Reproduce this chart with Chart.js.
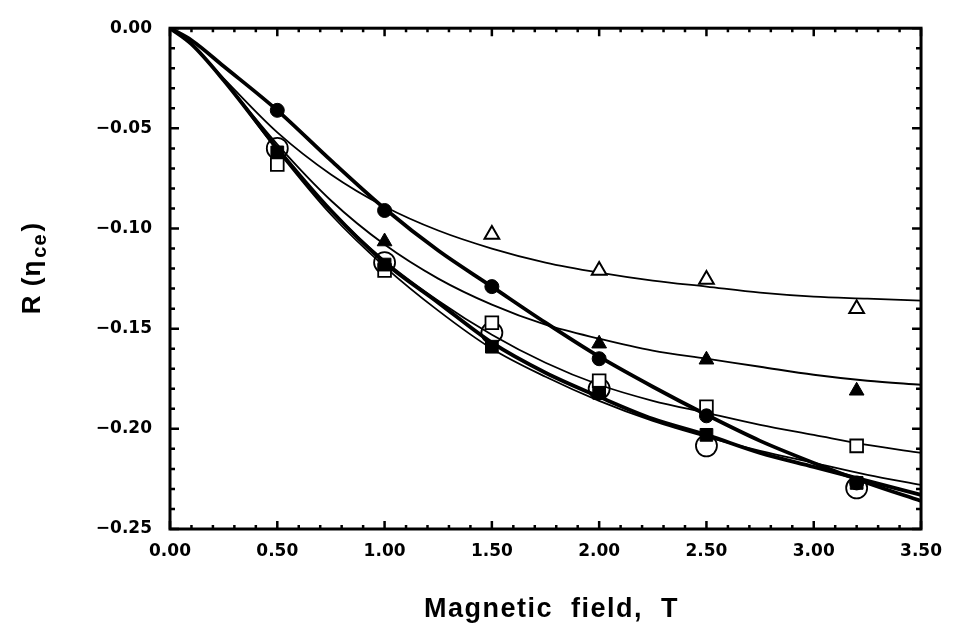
<!DOCTYPE html>
<html>
<head>
<meta charset="utf-8">
<script src="https://cdn.jsdelivr.net/npm/chart.js@4.4.0/dist/chart.umd.min.js"></script>
<style>
  body { margin: 0; background: #fff; }
  #wrap { width: 954px; height: 641px; position: relative; }
</style>
</head>
<body>
<div id="wrap"><canvas id="myChart"></canvas></div>
<script>
// fitted curves on a common field grid (T)
const fitField = [0, 0.1, 0.25, 0.5, 0.75, 1.0, 1.25, 1.5, 1.75, 2.0, 2.25, 2.5, 2.75, 3.0, 3.25, 3.5];
const fitFilledCircle = [0, -0.006, -0.019, -0.041, -0.066, -0.090, -0.111, -0.129, -0.147, -0.164, -0.179, -0.193, -0.206, -0.217, -0.227, -0.236];
const fitFilledSquare = [0, -0.008, -0.026, -0.060, -0.091, -0.117, -0.137, -0.157, -0.172, -0.184, -0.195, -0.203, -0.212, -0.219, -0.226, -0.233];
const fitOpenCircle = [0, -0.008, -0.026, -0.061, -0.093, -0.119, -0.141, -0.160, -0.174, -0.186, -0.196, -0.204, -0.211, -0.217, -0.223, -0.228];
const fitOpenSquare = [0, -0.008, -0.026, -0.060, -0.091, -0.116, -0.136, -0.153, -0.167, -0.178, -0.186, -0.192, -0.198, -0.203, -0.208, -0.212];
const fitFilledTri = [0, -0.008, -0.026, -0.058, -0.086, -0.108, -0.125, -0.138, -0.148, -0.155, -0.161, -0.165, -0.169, -0.173, -0.176, -0.178];
const fitOpenTri = [0, -0.008, -0.025, -0.052, -0.073, -0.089, -0.101, -0.110, -0.117, -0.122, -0.126, -0.129, -0.132, -0.134, -0.135, -0.136];

// measured points
const field = [0.5, 1.0, 1.5, 2.0, 2.5, 3.2];
const ptFilledCircle = [-0.041, -0.091, -0.129, -0.165, -0.1935, -0.227];
const ptOpenCircle = [-0.060, -0.117, -0.152, -0.180, -0.2085, -0.2295];
const ptFilledSquare = [-0.062, -0.118, -0.159, -0.182, -0.203, -0.227];
const ptOpenSquare = [-0.068, -0.121, -0.147, -0.176, -0.189, -0.2085];
const ptFilledTri = [null, -0.1065, null, -0.1575, -0.1655, -0.181];
const ptOpenTri = [null, null, -0.103, -0.121, -0.1255, -0.140];

const yTicks = [0, -0.05, -0.10, -0.15, -0.20, -0.25];

function xy(xs, ys) {
  var out = [];
  for (var i = 0; i < xs.length; i++) {
    if (ys[i] !== null) out.push({ x: xs[i], y: ys[i] });
  }
  return out;
}

function marks(label, ys, style, r, fill, bw) {
  return {
    label: label, type: 'scatter', data: xy(field, ys), showLine: false,
    pointStyle: style, pointRadius: r, pointHoverRadius: r,
    backgroundColor: fill, borderColor: '#000', borderWidth: bw
  };
}

function fit(label, ys, w) {
  return {
    label: label, type: 'line', data: xy(fitField, ys),
    borderColor: '#000', borderWidth: w, pointRadius: 0, fill: false,
    cubicInterpolationMode: 'monotone'
  };
}

const mainFont = "'Liberation Sans', Arial, sans-serif";
const tickFont = "'DejaVu Sans', sans-serif";

// frame, inward ticks and axis titles
const frame = {
  id: 'frame',
  afterDatasetsDraw(chart) {
    const ctx = chart.ctx, a = chart.chartArea;
    const x = chart.scales.x, y = chart.scales.y;
    ctx.save();
    ctx.strokeStyle = '#000';
    ctx.lineWidth = 2.5;
    ctx.beginPath();
    for (let i = 0; i <= 35; i++) {
      const px = x.getPixelForValue(i / 10);
      const len = i % 5 === 0 ? 8 : 4;
      ctx.moveTo(px, a.bottom); ctx.lineTo(px, a.bottom - len);
      ctx.moveTo(px, a.top); ctx.lineTo(px, a.top + len);
    }
    for (let i = 0; i <= 25; i++) {
      const py = y.getPixelForValue(-i / 100);
      const len = i % 5 === 0 ? 9 : 5;
      ctx.moveTo(a.left, py); ctx.lineTo(a.left + len, py);
      ctx.moveTo(a.right, py); ctx.lineTo(a.right - len, py);
    }
    ctx.stroke();
    ctx.lineWidth = 3;
    ctx.strokeRect(a.left, a.top, a.right - a.left, a.bottom - a.top);

    // x title
    ctx.fillStyle = '#000';
    ctx.font = 'bold 27px ' + mainFont;
    ctx.letterSpacing = '1.5px';
    ctx.textAlign = 'center';
    ctx.textBaseline = 'middle';
    ctx.fillText('Magnetic  field,  T', (a.left + a.right) / 2 + 6, 610);

    // y title, rotated, with subscript
    ctx.letterSpacing = '1px';
    ctx.translate(31, 268);
    ctx.rotate(-Math.PI / 2);
    ctx.textAlign = 'left';
    ctx.textBaseline = 'alphabetic';
    const big = 'bold 26px ' + mainFont, small = 'bold 20px ' + mainFont;
    ctx.font = big;
    const w1 = ctx.measureText('R (\u03b7').width;
    const w3 = ctx.measureText(')').width;
    ctx.font = small;
    const w2 = ctx.measureText('ce').width;
    let sx = -(w1 + w2 + w3 + 4) / 2;
    ctx.font = big;
    ctx.fillText('R (\u03b7', sx, 9);
    ctx.font = small;
    ctx.fillText('ce', sx + w1 + 2, 15);
    ctx.font = big;
    ctx.fillText(')', sx + w1 + w2 + 4, 9);
    ctx.restore();
  }
};

const ctx = document.getElementById('myChart');
const myChart = new Chart(ctx, {
  type: 'line',
  data: {
    datasets: [
      marks('filled circle', ptFilledCircle, 'circle', 7, '#000', 1),
      marks('filled square', ptFilledSquare, 'rect', 9, '#000', 1),
      marks('filled triangle', ptFilledTri, 'triangle', 8.5, '#000', 1),
      marks('open square', ptOpenSquare, 'rect', 9, '#fff', 1.8),
      marks('open triangle', ptOpenTri, 'triangle', 8.5, '#fff', 2),
      marks('open circle', ptOpenCircle, 'circle', 10.5, 'rgba(0,0,0,0)', 1.8),
      fit('fit filled circle', fitFilledCircle, 3.8),
      fit('fit filled square', fitFilledSquare, 3.8),
      fit('fit open circle', fitOpenCircle, 1.8),
      fit('fit open square', fitOpenSquare, 1.8),
      fit('fit filled triangle', fitFilledTri, 1.8),
      fit('fit open triangle', fitOpenTri, 1.8)
    ]
  },
  options: {
    responsive: true,
    maintainAspectRatio: false,
    animation: false,
    devicePixelRatio: 1,
    layout: { padding: { top: 22, right: 29, left: 0, bottom: 0 } },
    plugins: { legend: { display: false }, tooltip: { enabled: false } },
    scales: {
      x: {
        type: 'linear', min: 0, max: 3.5,
        grid: { display: false, drawTicks: false },
        border: { display: false },
        ticks: {
          stepSize: 0.5, padding: 12, color: '#000',
          font: { family: tickFont, size: 17, weight: 'bold' },
          callback: function (v) { return v.toFixed(2); }
        },
        afterFit: function (s) { s.height = 112; }
      },
      y: {
        type: 'linear', min: -0.25, max: 0,
        grid: { display: false, drawTicks: false },
        border: { display: false },
        afterBuildTicks: function (s) { s.ticks = yTicks.map(function (v) { return { value: v }; }); },
        ticks: {
          padding: 18, color: '#000',
          font: { family: tickFont, size: 17, weight: 'bold' },
          callback: function (v) { return (v < -1e-9 ? '\u2212' : '') + Math.abs(v).toFixed(2); }
        },
        afterFit: function (s) { s.width = 170; }
      }
    }
  },
  plugins: [frame]
});
</script>
</body>
</html>
